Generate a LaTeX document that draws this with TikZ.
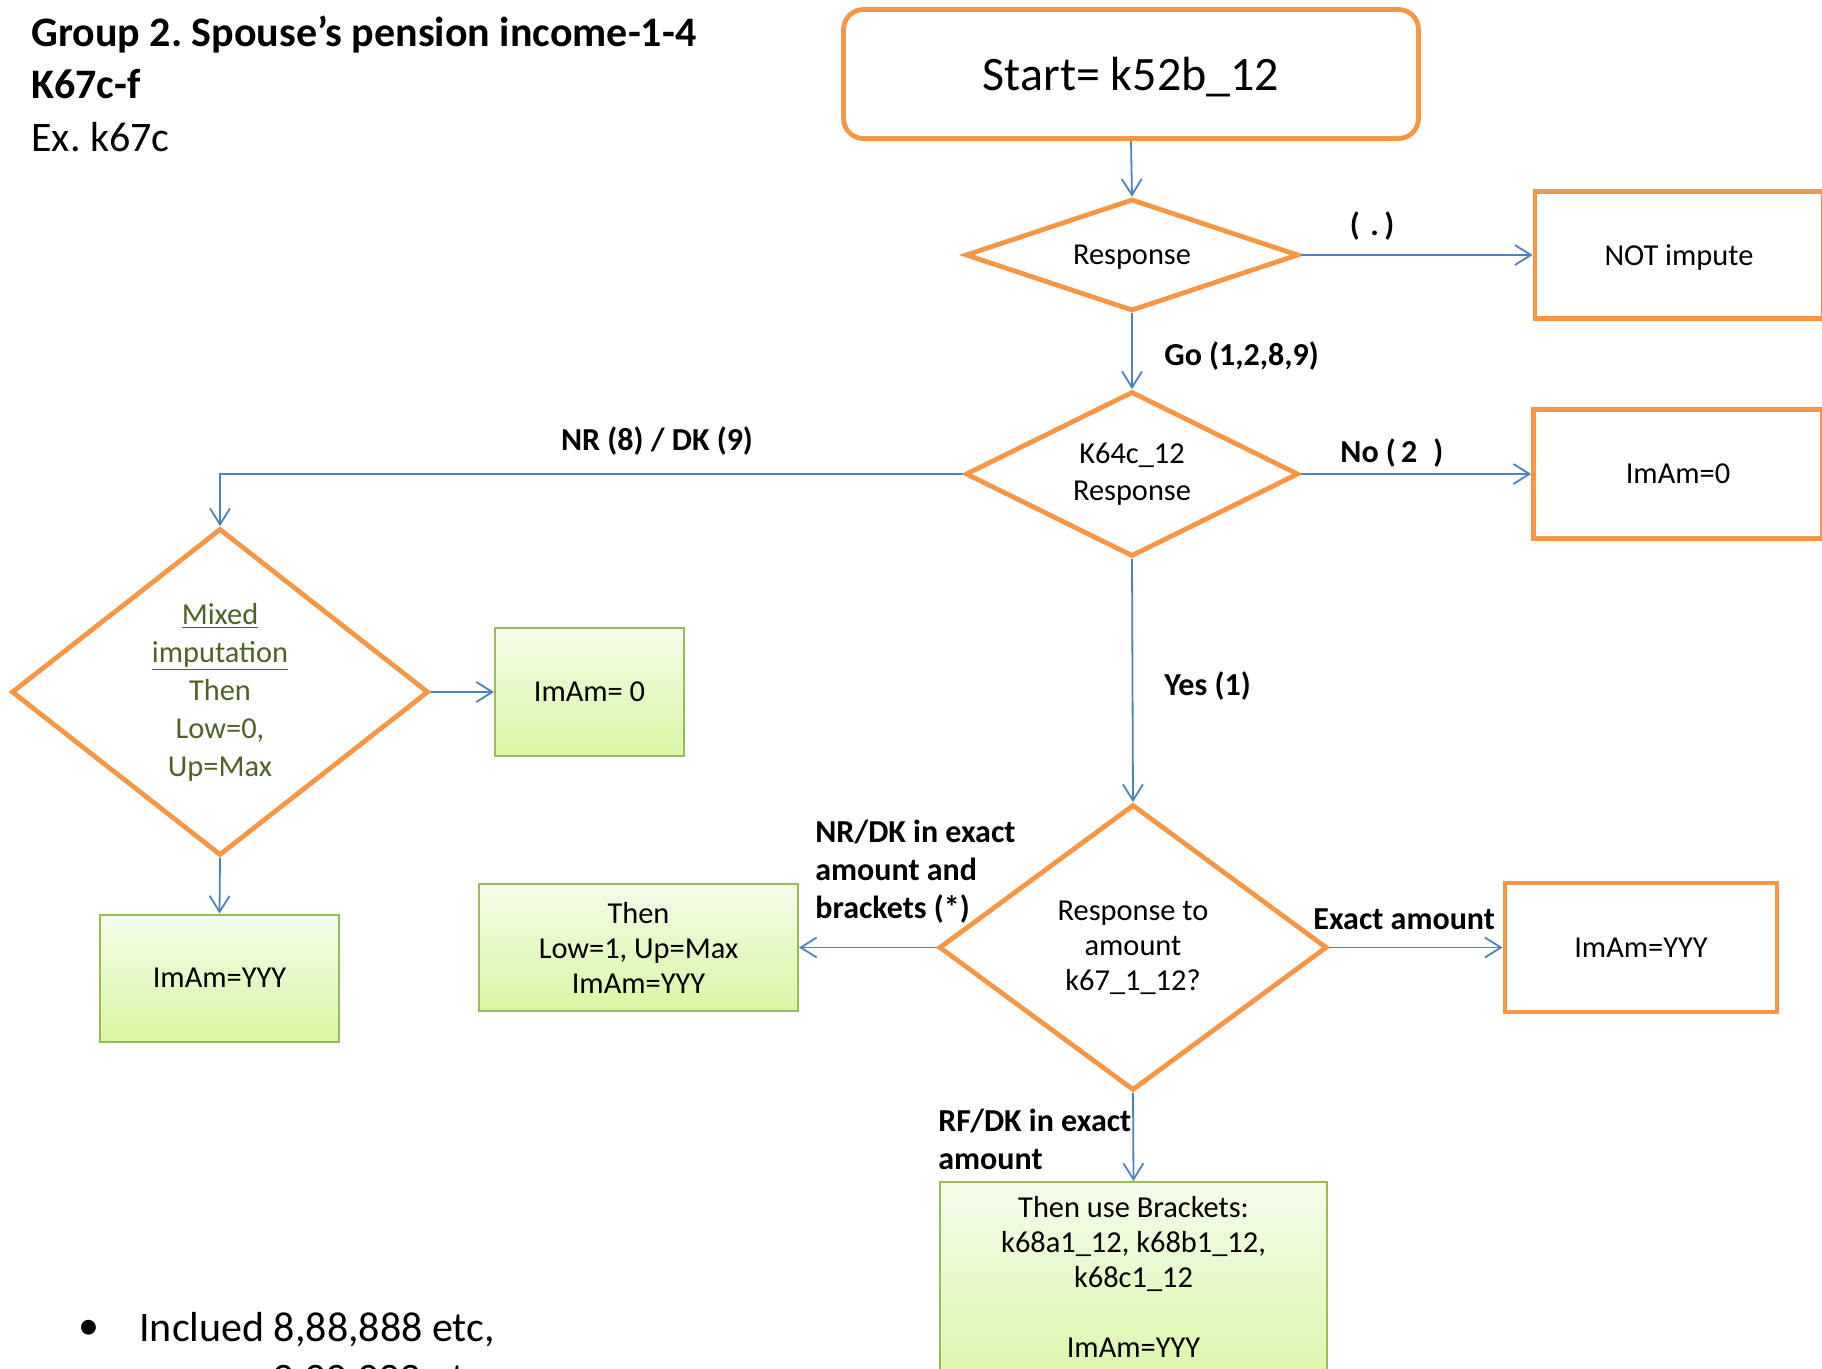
\documentclass[tikz,border=0pt]{standalone}
\usepackage{fontspec}
\setmainfont{Carlito}
\frenchspacing
\usetikzlibrary{shapes.geometric,arrows.meta}
\definecolor{orng}{HTML}{F79646}
\definecolor{blu}{HTML}{4F81BD}
\definecolor{grnb}{HTML}{9BBB59}
\definecolor{grntop}{HTML}{F4FCEA}
\definecolor{grnbot}{HTML}{D8F7A4}
\definecolor{olive}{HTML}{4F6228}
\tikzset{
  txt/.style={font=\fontsize{15.2pt}{18.5pt}\selectfont, align=center},
  lbl/.style={font=\bfseries\fontsize{16pt}{19pt}\selectfont, align=left, inner sep=0pt},
  obox/.style={txt, draw=orng, line width=2.4pt, inner sep=0pt},
  odia/.style={txt, diamond, draw=orng, line width=2.4pt, inner sep=0pt},
  gbox/.style={txt, draw=grnb, line width=1pt, top color=grntop, bottom color=grnbot, inner sep=0pt},
  conn/.style={draw=blu, line width=0.9pt, -{Straight Barb[length=8pt,width=10pt,line width=0.9pt]}},
}
\begin{document}
\begin{tikzpicture}[x=0.5pt,y=-0.5pt]
\useasboundingbox (0,0) rectangle (1822,1369);
% title
\node[anchor=west, inner sep=0pt, font=\bfseries\fontsize{21pt}{25pt}\selectfont] (t1) at (31,35) {Group 2. Spouse’s pension income-1-4};
\node[anchor=west, inner sep=0pt, font=\bfseries\fontsize{21pt}{25pt}\selectfont] (t2) at (31,84) {K67c-f};
\node[anchor=west, inner sep=0pt, font=\fontsize{21pt}{25pt}\selectfont] (t3) at (31,137) {Ex. k67c};
% start
\node[obox, rounded corners=10pt, minimum width=287.5pt, minimum height=64.5pt, font=\fontsize{24pt}{28pt}\selectfont, text depth=0pt] (start) at (1131,74) {Start= k52b\_12};
% response diamond
\node[odia, minimum width=166.5pt, minimum height=56pt, aspect=3, text depth=0pt] (resp) at (1132,255) {Response};
\node[obox, minimum width=144pt, minimum height=63.5pt, text depth=0pt] (notimp) at (1679,255) {NOT impute};
% K64c diamond
\node[odia, minimum width=166.5pt, minimum height=82.5pt, aspect=2] (k64) at (1132,474) {K64c\_12\\Response};
\node[obox, minimum width=144.5pt, minimum height=64.5pt, text depth=0pt] (imam0) at (1678,474) {ImAm=0};
% mixed
\node[odia, minimum width=208.5pt, minimum height=163.5pt, aspect=1.3, text=olive, font=\fontsize{15.2pt}{19pt}\selectfont] (mixed) at (220,692) {\underline{Mixed}\\\underline{imputation}\\Then\\Low=0,\\Up=Max};
\node[gbox, minimum width=94.5pt, minimum height=64pt, text depth=0pt] (g0) at (589.5,692) {ImAm= 0};
\node[gbox, minimum width=119.5pt, minimum height=63.5pt, text depth=0pt] (gyl) at (219.5,978) {ImAm=YYY};
% amount diamond
\node[odia, minimum width=194pt, minimum height=143pt, aspect=1.4, font=\fontsize{15.2pt}{17.5pt}\selectfont] (amt) at (1133,947.5) {Response to\\amount\\k67\_1\_12?};
\node[gbox, minimum width=159.5pt, minimum height=63.5pt, font=\fontsize{15.2pt}{17.5pt}\selectfont] (gmid) at (638.5,947.5) {Then\\Low=1, Up=Max\\ImAm=YYY};
\node[obox, minimum width=136pt, minimum height=64.5pt, text depth=0pt] (oyyy) at (1641,947.5) {ImAm=YYY};
\node[gbox, minimum width=193.5pt, minimum height=110pt, anchor=north] (gbr) at (1133.5,1181) {};
\node[txt, anchor=north, inner sep=0pt, font=\fontsize{15.2pt}{17.5pt}\selectfont] (gbrt) at (1133.5,1196) {Then use Brackets:\\k68a1\_12, k68b1\_12,\\k68c1\_12\\[17.5pt]ImAm=YYY};
% connectors
\draw[conn] (start.south) -- (resp.north);
\draw[conn] (resp.east) -- (notimp.west);
\draw[conn] (resp.south) -- (k64.north);
\draw[conn] (k64.east) -- (imam0.west);
\draw[conn] (k64.west) -| (mixed.north);
\draw[conn] (mixed.east) -- (g0.west);
\draw[conn] (mixed.south) -- (gyl.north);
\draw[conn] (k64.south) -- (amt.north);
\draw[conn] (amt.west) -- (gmid.east);
\draw[conn] (amt.east) -- (oyyy.west);
\draw[conn] (amt.south) -- (gbr.north);
% labels
\node[lbl] (l1) at (1372,226) {(\,\,.\,)};
\node[lbl, anchor=west] (l2) at (1164,356) {Go (1,2,8,9)};
\node[lbl, anchor=west] (l3) at (1340,453) {No (\,2\,\,\,)};
\node[lbl] (l4) at (657,441) {NR (8) / DK (9)};
\node[lbl, anchor=west] (l5) at (1164,686) {Yes (1)};
\node[lbl, anchor=north west] (l6) at (815,820) {NR/DK in exact\\amount and\\brackets (*)};
\node[lbl, anchor=west] (l7) at (1313,919) {Exact amount};
\node[lbl, anchor=north west] (l8) at (938,1109) {RF/DK in exact\\amount};
% bullet text
\node[anchor=west, inner sep=0pt, font=\fontsize{21pt}{25pt}\selectfont] (b1) at (78,1330) {•};
\node[anchor=west, inner sep=0pt, font=\fontsize{21pt}{25pt}\selectfont] (b2) at (139,1330) {Inclued 8,88,888 etc,};
\node[anchor=west, inner sep=0pt, font=\fontsize{21pt}{25pt}\selectfont] (b3) at (272,1382) {9,99,999 etc};
\end{tikzpicture}
\end{document}
